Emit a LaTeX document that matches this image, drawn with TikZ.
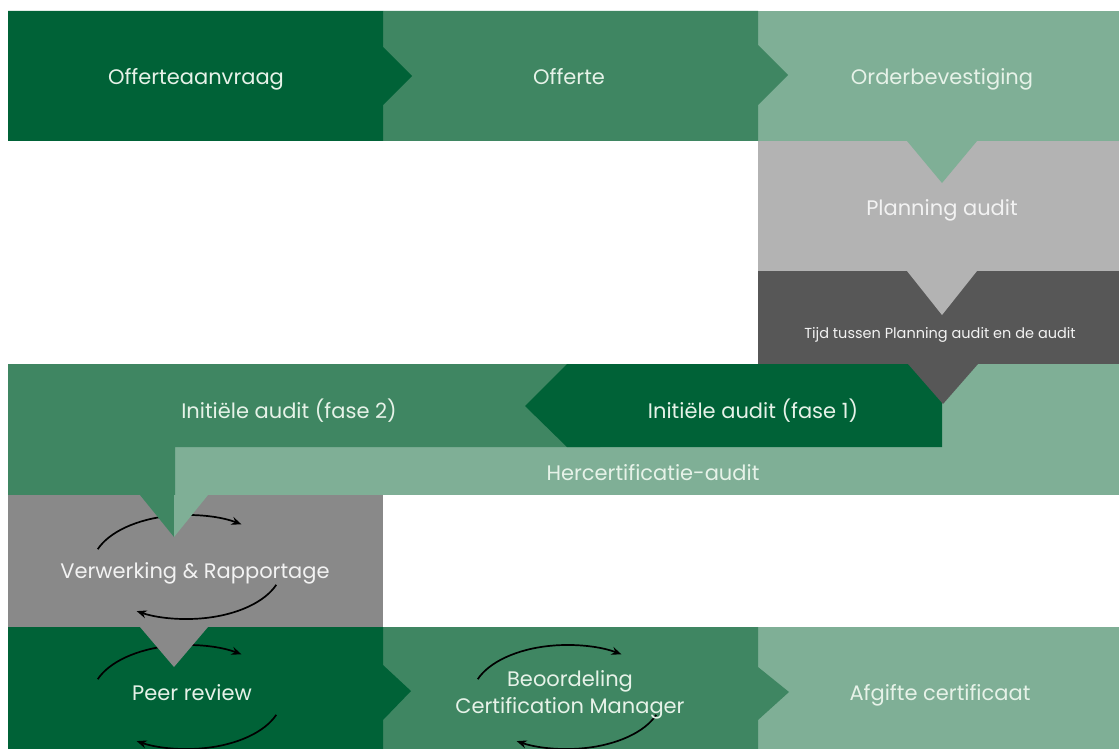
\documentclass[tikz,border=0pt]{standalone}
\usepackage{fontspec}
\setmainfont{Poppins}
\usetikzlibrary{arrows.meta}
\definecolor{gDark}{RGB}{0,98,55}
\definecolor{gMid}{RGB}{63,134,98}
\definecolor{gLight}{RGB}{127,175,150}
\definecolor{grLight}{RGB}{179,179,179}
\definecolor{grDark}{RGB}{87,87,87}
\definecolor{grMid}{RGB}{137,137,137}
\definecolor{txtG}{RGB}{230,242,232}
\definecolor{txtW}{RGB}{242,242,242}
\begin{document}
\begin{tikzpicture}[x=1pt,y=-1pt,
  lbl/.style={text=txtG, font=\fontsize{21}{26}\selectfont, anchor=base, inner sep=0pt},
  lblw/.style={lbl, text=txtW},
  small/.style={lblw, font=\fontsize{14.5}{17}\selectfont},
  cyc/.style={draw=black, line width=1.7pt, -{Stealth[length=10pt,width=8pt]}}]
\fill[white] (0,0) rectangle (1119,749);
\useasboundingbox (0,0) rectangle (1119,749);
% ---------- row 1
\fill[gLight] (758,11) rectangle (1119,141);
\fill[gMid] (383,11) -- (758,11) -- (758,45) -- (788,75) -- (758,105) -- (758,141) -- (383,141) -- cycle;
\fill[gDark] (8,11) -- (383,11) -- (383,47) -- (412,76) -- (383,105) -- (383,141) -- (8,141) -- cycle;
% ---------- planning + tijd
\fill[grLight] (758,141) rectangle (1119,271);
\fill[grDark] (758,271) rectangle (1119,364);
% ---------- row 3
\fill[gLight] (175,364) rectangle (1119,495);
\fill[gMid] (8,364) -- (600,364) -- (600,447) -- (175,447) -- (175,495) -- (8,495) -- cycle;
\fill[gDark] (567,364) -- (942,364) -- (942,447) -- (567,447) -- (525,406) -- cycle;
% ---------- row 4
\fill[grMid] (8,495) rectangle (383,627);
% ---------- row 5
\fill[gLight] (758,627) rectangle (1119,749);
\fill[gMid] (383,627) -- (758,627) -- (758,667) -- (789,692) -- (758,720) -- (758,749) -- (383,749) -- cycle;
\fill[gDark] (8,627) -- (383,627) -- (383,665) -- (411,691) -- (383,720) -- (383,749) -- (8,749) -- cycle;
% ---------- cycle arrows
\draw[cyc] (187,567) ++(-160:95 and 52) arc[start angle=-160, end angle=-55, x radius=95, y radius=52];
\draw[cyc] (187,567) ++(20:95 and 52) arc[start angle=20, end angle=122, x radius=95, y radius=52];
\draw[cyc] (187,697) ++(-160:95 and 52) arc[start angle=-160, end angle=-55, x radius=95, y radius=52];
\draw[cyc] (187,697) ++(20:95 and 52) arc[start angle=20, end angle=122, x radius=95, y radius=52];
\draw[cyc] (567,697) ++(-160:95 and 52) arc[start angle=-160, end angle=-55, x radius=95, y radius=52];
\draw[cyc] (567,697) ++(20:95 and 52) arc[start angle=20, end angle=122, x radius=95, y radius=52];
% ---------- downward triangles
\fill[gLight] (907,141) -- (977,141) -- (942,183) -- cycle;
\fill[grLight] (907,271) -- (977,271) -- (942,315) -- cycle;
\fill[grDark] (908,364) -- (978,364) -- (943,404) -- cycle;
\fill[gMid] (140,495) -- (174,495) -- (174,537) -- cycle;
\fill[gLight] (174,495) -- (208,495) -- (174,537) -- cycle;
\fill[grMid] (140,627) -- (208,627) -- (174,667) -- cycle;
% ---------- labels
\node[lbl] (t1) at (196,85) {Offerteaanvraag};
\node[lbl] (t2) at (569,85) {Offerte};
\node[lbl] (t3) at (942,85) {Orderbevestiging};
\node[lblw] (t4) at (942,215) {Planning audit};
\node[small] (t5) at (940,338) {Tijd tussen Planning audit en de audit};
\node[lbl] (t6) at (289,418) {Initiële audit (fase 2)};
\node[lbl] (t7) at (753,418) {Initiële audit (fase 1)};
\node[lbl] (t8) at (653,480) {Hercertificatie-audit};
\node[lblw] (t9) at (195,578) {Verwerking \& Rapportage};
\node[lbl] (t10) at (192,700) {Peer review};
\node[lbl] (t11) at (570,686) {Beoordeling};
\node[lbl] (t12) at (570,713) {Certification Manager};
\node[lbl] (t13) at (940,700) {Afgifte certificaat};
\end{tikzpicture}
\end{document}
